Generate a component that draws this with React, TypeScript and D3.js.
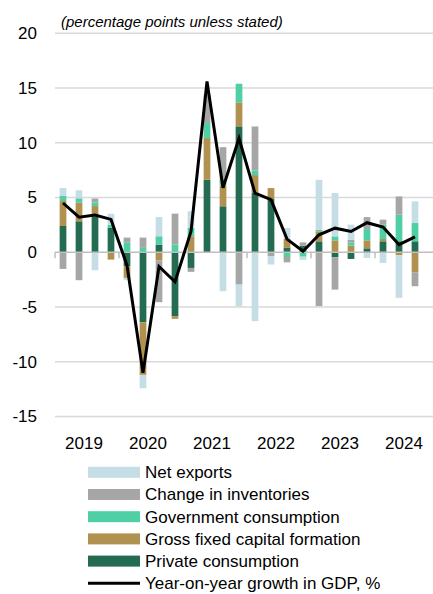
import React from "react";
import * as d3 from "d3";

const quarters = [
  "2019Q1","2019Q2","2019Q3","2019Q4",
  "2020Q1","2020Q2","2020Q3","2020Q4",
  "2021Q1","2021Q2","2021Q3","2021Q4",
  "2022Q1","2022Q2","2022Q3","2022Q4",
  "2023Q1","2023Q2","2023Q3","2023Q4",
  "2024Q1","2024Q2","2024Q3","2024Q4",
];
const years = ["2019", "2020", "2021", "2022", "2023", "2024"];

const privateConsumption = [2.4, 2.83, 3.28, 2.22, -1.28, -6.4, 0.7, -5.84, -1.43, 6.63, 4.2, 11.5, 5.41, 4.86, 0.4, 0.6, 1.0, -0.46, -0.61, 0.36, 1.0, 1.0, 1.0];
const grossFixedCapital = [2.28, 1.7, 0.94, -0.67, -1.06, -4.8, -0.73, -0.24, 1.46, 3.8, 1.9, 2.19, 1.64, 1.0, 0.82, 0, 0.91, 1.09, 0.61, 0.73, 0.21, -0.27, -1.82];
const governmentConsumption = [0.46, 0.4, 0.33, 0.3, 0.91, 0.4, 0.76, 0.7, 0.76, 1.37, 0.6, 1.7, 0.43, 0, -0.43, -0.4, 0.15, 0.36, 0.3, 1.03, 1.31, 2.43, 1.67];
const inventories = [-1.52, -2.55, 0.36, 0, 0.43, 0.94, -3.83, 2.83, -0.36, 2.6, 2.9, -2.95, 4.01, -0.36, -0.49, 0.3, -4.92, -2.95, 0.24, 1.09, 0.46, 1.67, -1.28];
const netExports = [0.73, 0.73, -1.64, 1.0, -0.2, -1.22, 1.76, 0, 1.52, 0, -3.55, -1.98, -6.29, -0.76, 1.0, -0.3, 4.56, 3.96, 1.37, -0.52, -0.97, -3.89, 1.98];
const gdpGrowth = [4.5, 3.2, 3.4, 3.0, -1.2, -11.0, -1.3, -2.7, 1.9, 15.6, 5.9, 10.4, 5.4, 4.8, 1.2, 0.1, 1.6, 2.2, 1.9, 2.7, 2.3, 0.7, 1.4];

const yTicks = [20, 15, 10, 5, 0, -5, -10, -15];

const seriesKeys = ["private", "gfcf", "gov", "inv", "nx"];
const seriesLabels: Record<string, string> = {
  nx: "Net exports",
  inv: "Change in inventories",
  gov: "Government consumption",
  gfcf: "Gross fixed capital formation",
  private: "Private consumption",
};
const colors: Record<string, string> = {
  nx: "#c5dde4",
  inv: "#a6a6a6",
  gov: "#4fcfa5",
  gfcf: "#b1914f",
  private: "#236b51",
};
const legendOrder = ["nx", "inv", "gov", "gfcf", "private"];
const lineLabel = "Year-on-year growth in GDP, %";

const FONT = "'Liberation Sans', Arial, sans-serif";

export default function App() {
  const W = 433;
  const H = 594;
  const x = d3.scaleBand<string>().domain(quarters).range([55, 439]).padding(0);
  const y = d3.scaleLinear().domain([-15, 20]).range([416.5, 33.3]);
  const step = x.step();
  const bw = step * 0.42;

  const rows = privateConsumption.map((_, i) => ({
    q: quarters[i],
    private: privateConsumption[i],
    gfcf: grossFixedCapital[i],
    gov: governmentConsumption[i],
    inv: inventories[i],
    nx: netExports[i],
  }));
  const stack = d3
    .stack<any>()
    .keys(seriesKeys)
    .order(d3.stackOrderNone)
    .offset(d3.stackOffsetDiverging);
  const layers = stack(rows);

  const line = d3
    .line<number>()
    .x((_, i) => (x(quarters[i]) as number) + step / 2)
    .y((d) => y(d));

  const legendY0 = 472.3;
  const legendStep = 22.2;

  return (
    <svg
      width={W}
      height={H}
      style={{ position: "absolute", left: 0, top: 0, display: "block", background: "#fff" }}
      fontFamily={FONT}
    >
      {/* gridlines */}
      {yTicks.filter((t) => t !== 0).map((t) => (
        <line key={t} x1={55} x2={439} y1={y(t)} y2={y(t)} stroke="#d9d9d9" strokeWidth={1.5} />
      ))}
      {/* y labels */}
      {yTicks.map((t) => (
        <text key={t} x={37} y={y(t)} dy="0.35em" textAnchor="end" fontSize={17} fill="#000">
          {t}
        </text>
      ))}
      {/* title */}
      <text x={61} y={27} fontSize={15} fontStyle="italic" fill="#000">
        (percentage points unless stated)
      </text>
      {/* bars */}
      {layers.map((layer) => (
        <g key={layer.key} fill={colors[layer.key]}>
          {layer.map((d, i) => {
            const y0 = y(d[0]);
            const y1 = y(d[1]);
            const h = Math.abs(y0 - y1);
            if (h < 0.01) return null;
            return (
              <rect
                key={i}
                x={(x(quarters[i]) as number) + (step - bw) / 2}
                y={Math.min(y0, y1)}
                width={bw}
                height={h}
              />
            );
          })}
        </g>
      ))}
      {/* zero axis */}
      <line x1={55} x2={439} y1={y(0)} y2={y(0)} stroke="#bfbfbf" strokeWidth={1.5} />
      {years.map((yr, k) => {
        const xs = x(quarters[k * 4]) as number;
        return (
          <line key={yr} x1={xs} x2={xs} y1={y(0)} y2={y(0) + 6} stroke="#bfbfbf" strokeWidth={1.5} />
        );
      })}
      {/* GDP line */}
      <path d={line(gdpGrowth) || ""} fill="none" stroke="#000" strokeWidth={3} strokeLinejoin="miter" />
      {/* x labels */}
      {years.map((yr, k) => {
        const xs = (x(quarters[k * 4]) as number) + step * 2 - 3;
        return (
          <text key={yr} x={xs} y={449} textAnchor="middle" fontSize={17} fill="#000">
            {yr}
          </text>
        );
      })}
      {/* legend */}
      {legendOrder.map((k, i) => {
        const cy = legendY0 + i * legendStep;
        return (
          <g key={k}>
            <rect x={88} y={cy - 5.5} width={52} height={11} fill={colors[k]} />
            <text x={145} y={cy} dy="0.35em" fontSize={17} fill="#000">
              {seriesLabels[k]}
            </text>
          </g>
        );
      })}
      <g>
        <line x1={88} x2={140} y1={legendY0 + 5 * legendStep} y2={legendY0 + 5 * legendStep} stroke="#000" strokeWidth={3} />
        <text x={145} y={legendY0 + 5 * legendStep} dy="0.35em" fontSize={17} fill="#000">
          {lineLabel}
        </text>
      </g>
    </svg>
  );
}
